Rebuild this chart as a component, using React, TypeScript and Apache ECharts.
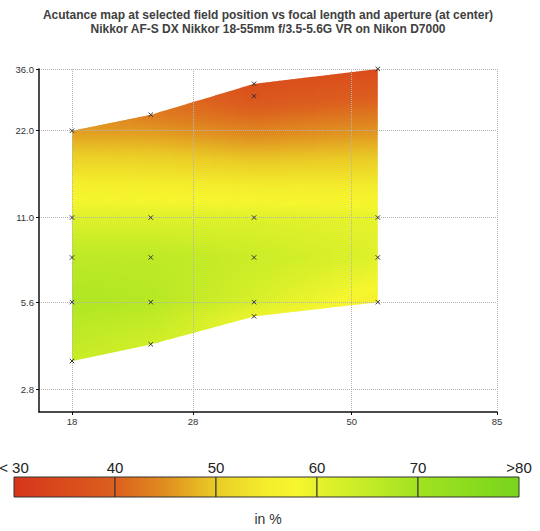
import React, { useEffect, useRef } from 'react';
import * as echarts from 'echarts';

// ---- data ----
const focalLengths = [18, 24, 35, 55];
const apertures18 = [3.5, 5.6, 8, 11, 22];
const acutance18 = [64, 68, 66, 61, 46];
const apertures24 = [4, 5.6, 8, 11, 25];
const acutance24 = [63, 67, 66, 61, 43];
const apertures35 = [5, 5.6, 8, 11, 29, 32];
const acutance35 = [59, 62, 64, 61, 37, 36];
const apertures55 = [5.6, 8, 11, 36];
const acutance55 = [56, 61, 60, 35];

const xTickValues = [18, 28, 50, 85];
const xTickLabels = ['18', '28', '50', '85'];
const yTickValues = [2.8, 5.6, 11, 22, 36];
const yTickLabels = ['2.8', '5.6', '11.0', '22.0', '36.0'];

const scaleValues = [30, 40, 50, 60, 70, 80];
const scaleLabels = ['< 30', '40', '50', '60', '70', '>80'];
const colorStopValues = [30, 40, 45, 50, 55, 58, 60, 63, 67, 70, 75, 80];
const colorStopColors = [
  '#d6361a', '#dc601e', '#e08e20', '#eacc26', '#f4ee2c', '#f6f62e',
  '#e6f22c', '#d0ee28', '#b6e824', '#a2e220', '#8cdc1e', '#78d41c',
];

const titleLine1 = 'Acutance map at selected field position vs focal length and aperture (at center)';
const titleLine2 = 'Nikkor AF-S DX Nikkor 18-55mm f/3.5-5.6G VR on Nikon D7000';
const unitLabel = 'in %';

// ---- helpers ----
const L = (v: number) => Math.log10(v);
const lerp = (a: number, b: number, t: number) => a + (b - a) * t;

const columns = [
  { f: focalLengths[0], a: apertures18, v: acutance18 },
  { f: focalLengths[1], a: apertures24, v: acutance24 },
  { f: focalLengths[2], a: apertures35, v: acutance35 },
  { f: focalLengths[3], a: apertures55, v: acutance55 },
];

function hexToRgb(h: string) {
  const n = parseInt(h.slice(1), 16);
  return [(n >> 16) & 255, (n >> 8) & 255, n & 255];
}
function colorAt(val: number) {
  const vs = colorStopValues;
  if (val <= vs[0]) return colorStopColors[0];
  if (val >= vs[vs.length - 1]) return colorStopColors[vs.length - 1];
  for (let i = 0; i < vs.length - 1; i++) {
    if (val >= vs[i] && val <= vs[i + 1]) {
      const t = (val - vs[i]) / (vs[i + 1] - vs[i]);
      const a = hexToRgb(colorStopColors[i]);
      const b = hexToRgb(colorStopColors[i + 1]);
      return `rgb(${Math.round(lerp(a[0], b[0], t))},${Math.round(lerp(a[1], b[1], t))},${Math.round(lerp(a[2], b[2], t))})`;
    }
  }
  return colorStopColors[0];
}
function profile(c: { a: number[]; v: number[] }, la: number) {
  const las = c.a.map(L);
  if (la <= las[0]) return c.v[0];
  if (la >= las[las.length - 1]) return c.v[las.length - 1];
  for (let i = 0; i < las.length - 1; i++) {
    if (la >= las[i] && la <= las[i + 1]) {
      return lerp(c.v[i], c.v[i + 1], (la - las[i]) / (las[i + 1] - las[i]));
    }
  }
  return c.v[0];
}

// axis ranges (log space) chosen so the axes sit offset from the first/last ticks
const X_MAX = L(85);
const X_MIN = X_MAX - 0.72651;
const Y_MAX = L(36);
const Y_MIN = Y_MAX - 1.18886;

const FONT = "'Liberation Sans', Arial, sans-serif";

export default function App() {
  const ref = useRef<HTMLDivElement>(null);
  useEffect(() => {
    document.body.style.margin = '0';
    if (!ref.current) return;
    const chart = echarts.init(ref.current, undefined, { renderer: 'svg' });

    const segData = columns.slice(0, -1).map((c, i) => {
      const n = columns[i + 1];
      return [ (L(c.f) + L(n.f)) / 2, (L(c.a[0]) + L(c.a[c.a.length - 1])) / 2, i ];
    });
    const markerData: number[][] = [];
    columns.forEach((c) => c.a.forEach((a) => markerData.push([L(c.f), L(a)])));

    const segW = 101;
    const barX = 14;
    const barY = 477;
    const barH = 20;
    const graphics: any[] = [
      { type: 'text', x: 268, y: 15, style: { text: titleLine1, align: 'center', verticalAlign: 'middle', font: `bold 12px ${FONT}`, fill: '#404040' } },
      { type: 'text', x: 268, y: 29, style: { text: titleLine2, align: 'center', verticalAlign: 'middle', font: `bold 12px ${FONT}`, fill: '#404040' } },
      { type: 'text', x: 268, y: 519, style: { text: unitLabel, align: 'center', verticalAlign: 'middle', font: `14px ${FONT}`, fill: '#333' } },
    ];
    for (let i = 0; i < scaleValues.length - 1; i++) {
      const v0 = scaleValues[i];
      const v1 = scaleValues[i + 1];
      const stops = [];
      for (let s = 0; s <= 10; s++) stops.push({ offset: s / 10, color: colorAt(lerp(v0, v1, s / 10)) });
      graphics.push({
        type: 'rect',
        shape: { x: barX + i * segW, y: barY, width: segW, height: barH },
        style: { fill: { type: 'linear', x: 0, y: 0, x2: 1, y2: 0, colorStops: stops }, stroke: '#333', lineWidth: 1 },
      });
    }
    scaleLabels.forEach((t, i) => {
      graphics.push({ type: 'text', x: barX + i * segW, y: 467, style: { text: t, align: 'center', verticalAlign: 'middle', font: `15px ${FONT}`, fill: '#222' } });
    });

    const nLast = columns.length - 2;
    const option: any = {
      animation: false,
      grid: { left: 39, right: 43, top: 69, bottom: 119 },
      xAxis: {
        type: 'value', min: X_MIN, max: X_MAX,
        axisLine: { show: true, onZero: false, lineStyle: { color: '#111', width: 1.5 } },
        axisTick: { show: true, customValues: xTickValues.map(L), length: 3, lineStyle: { color: '#111' } },
        axisLabel: {
          customValues: xTickValues.map(L), margin: 4, fontSize: 9.5, color: '#333', fontFamily: FONT,
          formatter: (v: number) => { const i = xTickValues.findIndex((t) => Math.abs(L(t) - v) < 1e-4); return i >= 0 ? xTickLabels[i] : ''; },
        },
        splitLine: { show: true, lineStyle: { color: '#b4b4b4', type: 'dotted', width: 1 } },
      },
      yAxis: {
        type: 'value', min: Y_MIN, max: Y_MAX,
        axisLine: { show: true, onZero: false, lineStyle: { color: '#111', width: 1.5 } },
        axisTick: { show: true, customValues: yTickValues.map(L), length: 3, lineStyle: { color: '#111' } },
        axisLabel: {
          customValues: yTickValues.map(L), margin: 5, fontSize: 9.5, color: '#333', fontFamily: FONT,
          formatter: (v: number) => { const i = yTickValues.findIndex((t) => Math.abs(L(t) - v) < 1e-4); return i >= 0 ? yTickLabels[i] : ''; },
        },
        splitLine: { show: true, lineStyle: { color: '#b4b4b4', type: 'dotted', width: 1 } },
      },
      graphic: graphics,
      series: [
        {
          type: 'custom', z: -1, silent: true,
          data: segData,
          renderItem: (params: any, api: any) => {
            const seg = api.value(2) as number;
            const c0 = columns[seg];
            const c1 = columns[seg + 1];
            const lf0 = L(c0.f), lf1 = L(c1.f);
            const b0 = L(c0.a[0]), b1 = L(c1.a[0]);
            const t0 = L(c0.a[c0.a.length - 1]), t1 = L(c1.a[c1.a.length - 1]);
            const N = 40, M = 30;
            const children: any[] = [];
            for (let k = 0; k < N; k++) {
              const ta = k / N, tb = (k + 1) / N, tm = (ta + tb) / 2;
              const xa = lerp(lf0, lf1, ta), xb = lerp(lf0, lf1, tb);
              const botA = lerp(b0, b1, ta), botB = lerp(b0, b1, tb);
              const topA = lerp(t0, t1, ta), topB = lerp(t0, t1, tb);
              const pBA = api.coord([xa, botA]);
              const pBB = api.coord([xb, botB]);
              const pTB = api.coord([xb, topB]);
              const pTA = api.coord([xa, topA]);
              const extra = seg === nLast && k === N - 1 ? 0 : 0.8;
              const laTop = Math.max(topA, topB);
              const laBot = Math.min(botA, botB);
              const stops = [];
              for (let s = 0; s <= M; s++) {
                const off = s / M;
                const la = laTop + off * (laBot - laTop);
                const val = (1 - tm) * profile(c0, la) + tm * profile(c1, la);
                stops.push({ offset: off, color: colorAt(val) });
              }
              children.push({
                type: 'polygon',
                shape: { points: [[pBA[0], pBA[1]], [pBB[0] + extra, pBB[1]], [pTB[0] + extra, pTB[1]], [pTA[0], pTA[1]]] },
                style: { fill: { type: 'linear', x: 0, y: 0, x2: 0, y2: 1, colorStops: stops } },
              });
            }
            return { type: 'group', children };
          },
        },
        {
          type: 'custom', z: 3, silent: true,
          data: markerData,
          renderItem: (params: any, api: any) => {
            const p = api.coord([api.value(0), api.value(1)]);
            const r = 2.2;
            return {
              type: 'group',
              children: [
                { type: 'line', shape: { x1: p[0] - r, y1: p[1] - r, x2: p[0] + r, y2: p[1] + r }, style: { stroke: '#333', lineWidth: 1 } },
                { type: 'line', shape: { x1: p[0] - r, y1: p[1] + r, x2: p[0] + r, y2: p[1] - r }, style: { stroke: '#333', lineWidth: 1 } },
              ],
            };
          },
        },
      ],
    };
    chart.setOption(option);
    return () => chart.dispose();
  }, []);
  return <div ref={ref} style={{ width: 540, height: 531 }} />;
}
